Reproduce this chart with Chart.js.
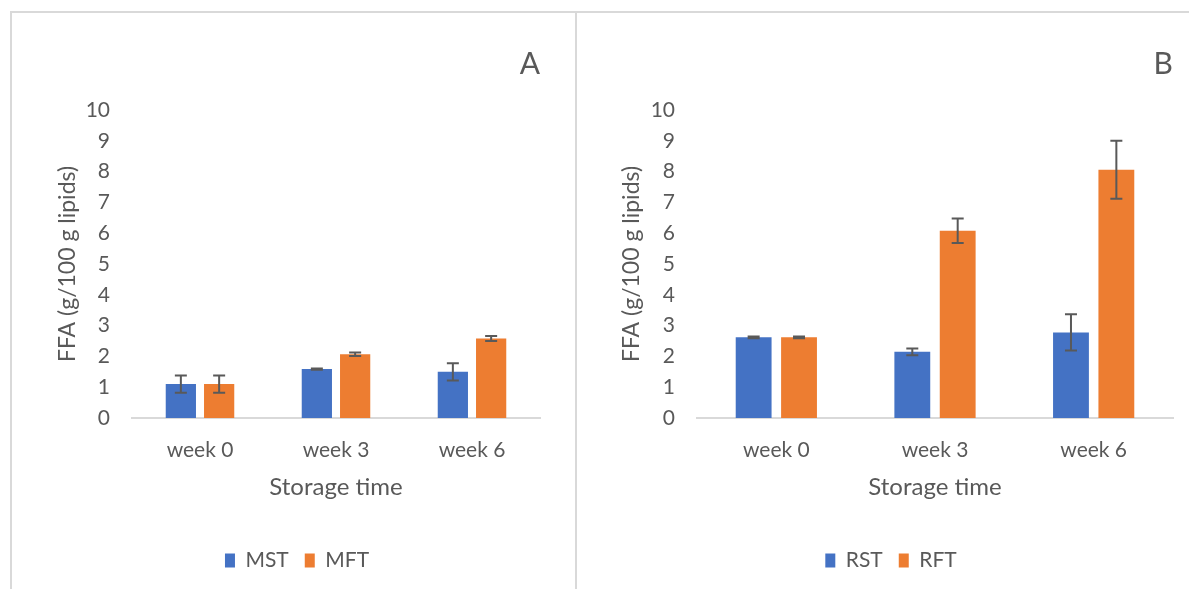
<!DOCTYPE html>
<html>
<head>
<meta charset="utf-8">
<script src="https://cdn.jsdelivr.net/npm/chart.js@4.4.1/dist/chart.umd.min.js"></script>
<style>
  body { margin: 0; background: #fff; width: 1189px; height: 589px; overflow: hidden; position: relative; }
  #panelA { position: absolute; left: 10px; top: 11px; width: 563px; height: 600px;
            border: 2px solid #d9d9d9; border-bottom: none; }
  #panelB { position: absolute; left: 577px; top: 11px; width: 640px; height: 600px;
            border-top: 2px solid #d9d9d9; }
  .wrap { position: absolute; top: 14px; height: 575px; }
  #wrapA { left: 12px; width: 563px; }
  #wrapB { left: 577px; width: 612px; }
</style>
</head>
<body>
<div id="panelA"></div>
<div id="panelB"></div>
<div class="wrap" id="wrapA"><canvas id="chartA"></canvas></div>
<div class="wrap" id="wrapB"><canvas id="chartB"></canvas></div>
<script>
// Dados
const semanas = ['week 0', 'week 3', 'week 6'];
const yTicks = [0, 1, 2, 3, 4, 5, 6, 7, 8, 9, 10];

// Painel A
const mstValores = [1.10, 1.59, 1.50];
const mstErros = [0.28, 0.02, 0.28];
const mftValores = [1.10, 2.07, 2.58];
const mftErros = [0.28, 0.06, 0.08];

// Painel B
const rstValores = [2.62, 2.15, 2.78];
const rstErros = [0.03, 0.11, 0.59];
const rftValores = [2.62, 6.08, 8.06];
const rftErros = [0.03, 0.40, 0.94];

const AZUL = '#4472C4';
const LARANJA = '#ED7D31';
const TEXTO = '#595959';
const FONTE = 'Lato, "Open Sans", sans-serif';

// Plugin para desenhar as barras de erro
const errorBars = {
  id: 'errorBars',
  afterDatasetsDraw(chart) {
    const ctx = chart.ctx;
    const yScale = chart.scales.y;
    chart.data.datasets.forEach((ds, i) => {
      const meta = chart.getDatasetMeta(i);
      meta.data.forEach((bar, j) => {
        const v = ds.data[j];
        const e = ds.erros[j];
        const yTop = yScale.getPixelForValue(v + e);
        const yBot = yScale.getPixelForValue(v - e);
        ctx.save();
        ctx.strokeStyle = TEXTO;
        ctx.lineWidth = 2;
        ctx.beginPath();
        ctx.moveTo(bar.x, yTop);
        ctx.lineTo(bar.x, yBot);
        ctx.moveTo(bar.x - 6, yTop);
        ctx.lineTo(bar.x + 6, yTop);
        ctx.moveTo(bar.x - 6, yBot);
        ctx.lineTo(bar.x + 6, yBot);
        ctx.stroke();
        ctx.restore();
      });
    });
  }
};

function criarGrafico(id, letra, nomes, valores, erros, pad, catPct) {
  const ctx = document.getElementById(id).getContext('2d');
  return new Chart(ctx, {
    type: 'bar',
    data: {
      labels: semanas,
      datasets: [
        { label: nomes[0], data: valores[0], erros: erros[0], backgroundColor: AZUL,
          barPercentage: 0.79, categoryPercentage: catPct },
        { label: nomes[1], data: valores[1], erros: erros[1], backgroundColor: LARANJA,
          barPercentage: 0.79, categoryPercentage: catPct }
      ]
    },
    options: {
      responsive: true,
      maintainAspectRatio: false,
      animation: false,
      layout: { padding: { left: pad.left, right: pad.right, top: 0, bottom: 8 } },
      plugins: {
        title: {
          display: true,
          text: letra,
          align: 'end',
          color: TEXTO,
          font: { family: FONTE, size: 30, weight: 'normal' },
          padding: { top: 32, bottom: 28 }
        },
        legend: {
          position: 'bottom',
          labels: {
            color: TEXTO,
            font: { family: FONTE, size: 21 },
            boxWidth: 10,
            boxHeight: 14,
            padding: 16
          }
        },
        tooltip: { enabled: false }
      },
      scales: {
        x: {
          afterFit: (scale) => { scale.height = 116; },
          grid: { display: false, drawTicks: false },
          border: { color: '#d9d9d9', width: 2 },
          ticks: { color: TEXTO, font: { family: FONTE, size: 21 }, padding: 20 },
          title: {
            display: true,
            text: 'Storage time',
            color: TEXTO,
            font: { family: FONTE, size: 24 },
            padding: { top: 0, bottom: 32 }
          }
        },
        y: {
          min: 0,
          max: 10,
          afterBuildTicks: (scale) => { scale.ticks = yTicks.map(v => ({ value: v })); },
          afterFit: (scale) => { scale.width = 120 - pad.left; },
          grid: { display: false, drawTicks: false },
          border: { display: false },
          ticks: { color: TEXTO, font: { family: FONTE, size: 21 }, padding: 22 },
          title: {
            display: true,
            text: 'FFA (g/100 g lipids)',
            color: TEXTO,
            font: { family: FONTE, size: 23 },
            padding: { top: pad.titleTop, bottom: 0 }
          }
        }
      }
    },
    plugins: [errorBars]
  });
}

criarGrafico('chartA', 'A', ['MST', 'MFT'], [mstValores, mftValores], [mstErros, mftErros],
  { left: 42, right: 35, titleTop: 0 }, 0.563);
criarGrafico('chartB', 'B', ['RST', 'RFT'], [rstValores, rftValores], [rstErros, rftErros],
  { left: 32, right: 16, titleTop: 9 }, 0.572);
</script>
</body>
</html>
